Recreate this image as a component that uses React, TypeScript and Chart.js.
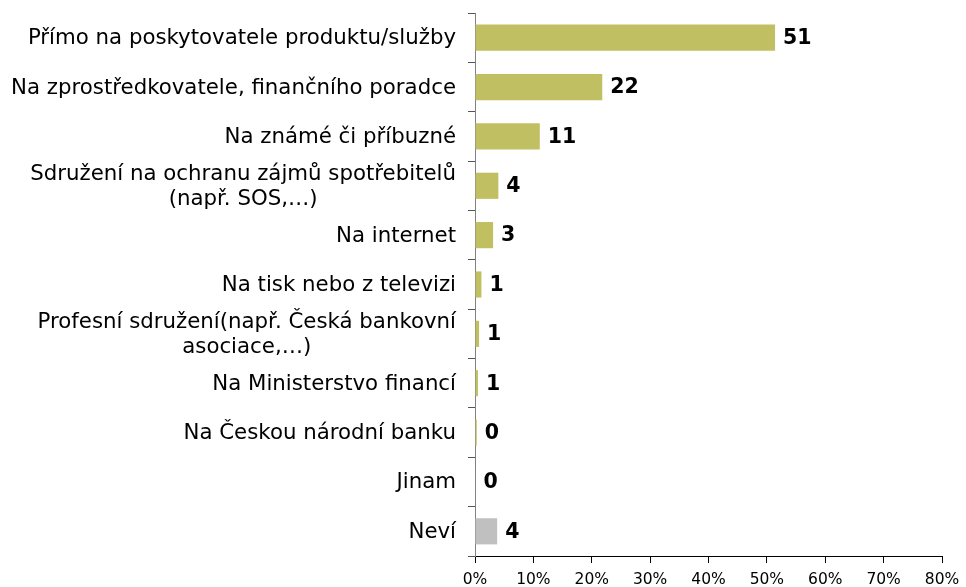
import React, { useEffect, useRef } from "react";
import { Chart, registerables } from "chart.js";

Chart.register(...registerables);

const categories: (string | string[])[] = [
  "Přímo na poskytovatele produktu/služby",
  "Na zprostředkovatele, finančního poradce",
  "Na známé či příbuzné",
  ["Sdružení na ochranu zájmů spotřebitelů", "(např. SOS,…)"],
  "Na internet",
  "Na tisk nebo z televizi",
  ["Profesní sdružení(např. Česká bankovní", "asociace,…)"],
  "Na Ministerstvo financí",
  "Na Českou národní banku",
  "Jinam",
  "Neví",
];

const values = [51.4, 21.8, 11.1, 4.0, 3.1, 1.1, 0.7, 0.5, 0.3, 0.1, 3.8];

const OLIVE = "#C0BF62";
const GREY = "#C0C0C0";
const barColors = [OLIVE, OLIVE, OLIVE, OLIVE, OLIVE, OLIVE, OLIVE, OLIVE, OLIVE, OLIVE, GREY];

const xMin = 0;
const xMax = 80;
const xStep = 10;

const FONT = "DejaVu Sans";

const labelPlugin = {
  id: "customLabels",
  afterDatasetsDraw(chart: any) {
    const ctx = chart.ctx;
    const yScale = chart.scales.y;
    const xScale = chart.scales.x;
    const meta = chart.getDatasetMeta(0);
    ctx.save();
    // category labels
    ctx.font = `21.3px "${FONT}"`;
    ctx.fillStyle = "#000";
    ctx.textBaseline = "middle";
    ctx.textAlign = "center";
    const rightEdge = 456;
    const lineH = 25;
    categories.forEach((lab, i) => {
      const lines = Array.isArray(lab) ? lab : [lab];
      const cy = yScale.getPixelForValue(i);
      const maxW = Math.max(...lines.map((l) => ctx.measureText(l).width));
      const cx = rightEdge - maxW / 2;
      lines.forEach((l, j) => {
        ctx.fillText(l, cx, cy + (j - (lines.length - 1) / 2) * lineH + 1);
      });
    });
    // value labels
    ctx.font = `bold 20.5px "${FONT}"`;
    ctx.textAlign = "left";
    meta.data.forEach((bar: any, i: number) => {
      const x = xScale.getPixelForValue(values[i]);
      ctx.fillText(String(Math.round(values[i])), x + 8, bar.y + 1);
    });
    ctx.restore();
  },
};

export default function App() {
  const ref = useRef<HTMLCanvasElement | null>(null);
  useEffect(() => {
    if (!ref.current) return;
    const chart = new Chart(ref.current, {
      type: "bar",
      data: {
        labels: categories.map((c) => (Array.isArray(c) ? c.join(" ") : c)),
        datasets: [
          {
            data: values,
            backgroundColor: barColors,
            borderWidth: 0,
            barPercentage: 0.53,
            categoryPercentage: 1,
          },
        ],
      },
      options: {
        indexAxis: "y",
        responsive: false,
        animation: false,
        layout: { padding: { top: 13, right: 24, left: 0, bottom: 0 } },
        plugins: { legend: { display: false }, tooltip: { enabled: false } },
        scales: {
          x: {
            min: xMin,
            max: xMax,
            ticks: {
              stepSize: xStep,
              callback: (v: any) => `${v}%`,
              font: { family: FONT, size: 15.5 },
              color: "#000",
              padding: 8,
              maxRotation: 0,
            },
            grid: { drawOnChartArea: false, tickLength: 7, color: "#000" },
            border: { color: "#000", width: 1 },
            afterFit: (s: any) => {
              s.height = 31;
              s.paddingRight = 0;
              s.paddingLeft = 0;
            },
          },
          y: {
            ticks: { display: false },
            grid: { drawOnChartArea: false, tickLength: 7, color: "#555", offset: true },
            border: { color: "#808080", width: 1 },
            afterFit: (s: any) => {
              s.width = 475;
            },
          },
        },
      },
      plugins: [labelPlugin],
    } as any);
    return () => chart.destroy();
  }, []);
  return (
    <div style={{ position: "fixed", left: 0, top: 0, width: 966, height: 587, background: "#fff" }}>
      <canvas ref={ref} width={966} height={587} style={{ display: "block" }} />
    </div>
  );
}
